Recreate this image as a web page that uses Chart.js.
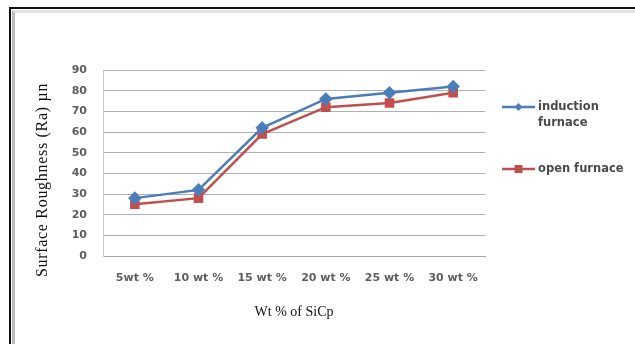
<!DOCTYPE html>
<html>
<head>
<meta charset="utf-8">
<script src="https://cdn.jsdelivr.net/npm/chart.js@4/dist/chart.umd.min.js"></script>
<style>
  html, body { margin: 0; padding: 0; background: #fff; }
  #wrap { position: relative; width: 635px; height: 344px; overflow: hidden; }
  #frame {
    position: absolute; left: 9px; top: 7px; right: -30px; bottom: -30px;
    border-top: 2px solid #111; border-left: 2px solid #111;
    pointer-events: none;
  }
  #frame::after {
    content: ""; position: absolute; left: 1px; top: 1px; right: 0; bottom: 0;
    border-top: 3px solid #e2e2e2; border-left: 3px solid #bdbdbd;
  }
  canvas { position: absolute; left: 0; top: 0; }
</style>
</head>
<body>
<div id="wrap">
  <canvas id="c" width="635" height="344"></canvas>
  <div id="frame"></div>
</div>
<script>
// Surface roughness (Ra) of the composite for each SiCp weight fraction
const categories = ['5wt %', '10 wt %', '15 wt %', '20 wt %', '25 wt %', '30 wt %'];
const inductionFurnace = [28, 32, 62, 76, 79, 82];
const openFurnace = [25, 28, 59, 72, 74, 79];
const seriesNames = ['induction furnace', 'open furnace'];
const legendLines = [['induction', 'furnace'], ['open furnace']];
const yTicks = { min: 0, max: 90, step: 10 };
const xTitle = 'Wt % of SiCp';
const yTitle = 'Surface Roughness (Ra) \u00b5n';

const tickFont = { family: 'DejaVu Sans', size: 11, weight: 'bold' };
const tickColor = '#5e5e5e';

// Vertical axis title and the side legend, painted onto the chart canvas
const sideText = {
  id: 'sideText',
  afterDraw(chart) {
    const ctx = chart.ctx;
    const area = chart.chartArea;
    ctx.save();
    // y-axis title
    ctx.font = '16px "Liberation Serif"';
    ctx.letterSpacing = '0.7px';
    ctx.fillStyle = '#111';
    ctx.textAlign = 'center';
    ctx.textBaseline = 'middle';
    ctx.translate(43, 180);
    ctx.rotate(-Math.PI / 2);
    ctx.fillText(yTitle, 0, 0);
    ctx.restore();

    // legend
    ctx.save();
    const entries = chart.data.datasets;
    const rows = [107, 169];
    entries.forEach((ds, i) => {
      const y = rows[i];
      const x0 = area.right + 17, x1 = area.right + 50;
      ctx.strokeStyle = ds.borderColor;
      ctx.lineWidth = 2.5;
      ctx.beginPath();
      ctx.moveTo(x0, y);
      ctx.lineTo(x1, y);
      ctx.stroke();
      ctx.fillStyle = ds.pointBackgroundColor;
      const mx = (x0 + x1) / 2;
      ctx.beginPath();
      if (ds.pointStyle === 'rectRot') {
        ctx.moveTo(mx, y - 4); ctx.lineTo(mx + 4, y); ctx.lineTo(mx, y + 4); ctx.lineTo(mx - 4, y);
        ctx.closePath();
      } else {
        ctx.rect(mx - 4, y - 4, 8, 8);
      }
      ctx.fill();
      ctx.font = 'bold 11.5px "DejaVu Sans"';
      ctx.fillStyle = '#4a4a4a';
      ctx.textAlign = 'left';
      ctx.textBaseline = 'middle';
      legendLines[i].forEach((t, k) => ctx.fillText(t, x1 + 3, y + k * 16));
    });
    ctx.restore();
  }
};

new Chart(document.getElementById('c'), {
  type: 'line',
  data: {
    labels: categories,
    datasets: [
      {
        label: seriesNames[0],
        data: inductionFurnace,
        borderColor: '#4a7ebb',
        backgroundColor: '#4a7ebb',
        pointBackgroundColor: '#4a7ebb',
        pointBorderColor: '#4a7ebb',
        pointStyle: 'rectRot',
        pointRadius: 5,
        borderWidth: 2.5,
        tension: 0
      },
      {
        label: seriesNames[1],
        data: openFurnace,
        borderColor: '#c0504d',
        backgroundColor: '#c0504d',
        pointBackgroundColor: '#c0504d',
        pointBorderColor: '#c0504d',
        pointStyle: 'rect',
        pointRadius: 5,
        borderWidth: 2.5,
        tension: 0
      }
    ]
  },
  options: {
    responsive: false,
    animation: false,
    events: [],
    layout: { padding: { left: 0, right: 150, top: 70, bottom: 0 } },
    plugins: { legend: { display: false }, tooltip: { enabled: false } },
    scales: {
      x: {
        offset: true,
        grid: { display: false, drawTicks: false },
        border: { display: true, color: '#a6a6a6' },
        ticks: { font: tickFont, color: tickColor, padding: 16 },
        title: {
          display: true, text: xTitle, color: '#111',
          font: { family: 'Liberation Serif', size: 14 },
          padding: { top: 0, bottom: 23 }
        },
        afterFit(scale) { scale.height = 88; }
      },
      y: {
        min: yTicks.min, max: yTicks.max,
        grid: { color: '#b0b0b0', lineWidth: 1, drawTicks: false },
        border: { display: true, color: '#c8c8c8' },
        ticks: { stepSize: yTicks.step, font: tickFont, color: tickColor, padding: 16 },
        afterFit(scale) { scale.width = 103; }
      }
    }
  },
  plugins: [sideText]
});
</script>
</body>
</html>
